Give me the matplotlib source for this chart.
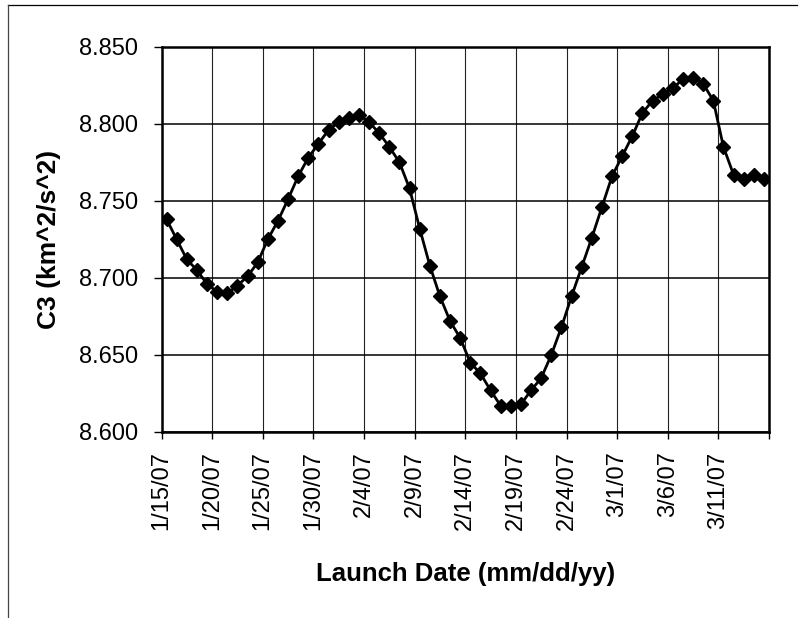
import datetime as dt
import matplotlib
matplotlib.use("Agg")
import matplotlib.pyplot as plt
import matplotlib.dates as mdates
from matplotlib.lines import Line2D

plt.rcParams['font.family'] = ['Liberation Sans', 'DejaVu Sans']

# Daily launch opportunities, 1/15/07 through 3/15/07
start_date = dt.datetime(2007, 1, 15)
n_days = 60
c3_values = [
    8.738, 8.725, 8.712, 8.705, 8.696, 8.691, 8.690, 8.695, 8.701, 8.710,
    8.725, 8.737, 8.751, 8.766, 8.778, 8.787, 8.796, 8.801, 8.804, 8.806,
    8.801, 8.794, 8.785, 8.775, 8.758, 8.732, 8.708, 8.688, 8.672, 8.661,
    8.645, 8.638, 8.627, 8.617, 8.617, 8.618, 8.627, 8.635, 8.650, 8.668,
    8.688, 8.707, 8.726, 8.746, 8.766, 8.779, 8.792, 8.807, 8.815, 8.819,
    8.823, 8.829, 8.830, 8.826, 8.815, 8.785, 8.767, 8.764, 8.767, 8.764,
]
y_ticks = [8.600, 8.650, 8.700, 8.750, 8.800, 8.850]
tick_step_days = 5

# each day's point sits in the middle of its day
dates = [start_date + dt.timedelta(days=i, hours=12) for i in range(n_days)]
end_date = start_date + dt.timedelta(days=n_days)
tick_dates = [start_date + dt.timedelta(days=d) for d in range(0, n_days + 1, tick_step_days)]
tick_labels = [f"{d.month}/{d.day}/{d:%y}" for d in tick_dates[:-1]] + [""]

W, H = 801, 618
fig = plt.figure(figsize=(W / 100, H / 100), dpi=100)
ax = fig.add_axes([161.5 / W, 1 - 432 / H, (769 - 161.5) / W, (432 - 46.7) / H])

ax.plot(dates, c3_values, color='black', lw=2.0, marker='D', ms=7,
        markerfacecolor='black', markeredgecolor='black', zorder=3)

ax.set_xlim(start_date, end_date)
ax.set_ylim(8.600, 8.850)
ax.set_yticks(y_ticks)
ax.set_yticklabels([f"{v:.3f}" for v in y_ticks])
ax.set_xticks([mdates.date2num(d) for d in tick_dates])
ax.set_xticklabels(tick_labels, rotation=90)

ax.yaxis.grid(True, color='black', lw=1.1)
ax.xaxis.grid(True, color='#222222', lw=0.8)
ax.set_axisbelow(True)

for s in ax.spines.values():
    s.set_linewidth(1.8)
    s.set_color('black')

ax.tick_params(axis='y', direction='out', length=6, width=1, labelsize=17, pad=11)
ax.tick_params(axis='x', direction='out', length=5, width=1, labelsize=17, pad=9)

ax.set_ylabel("C3 (km^2/s^2)", fontsize=19, fontweight='bold', labelpad=13)
ax.set_xlabel("Launch Date (mm/dd/yy)", fontsize=18.5, fontweight='bold', labelpad=23)

# outer chart frame (top and left edges)
fig.add_artist(Line2D([8 / W, 797 / W], [1 - 5 / H, 1 - 5 / H], color='black', lw=0.9))
fig.add_artist(Line2D([8 / W, 8 / W], [0, 1 - 5 / H], color='#444444', lw=0.9))

fig.savefig("out.png", dpi=100)
